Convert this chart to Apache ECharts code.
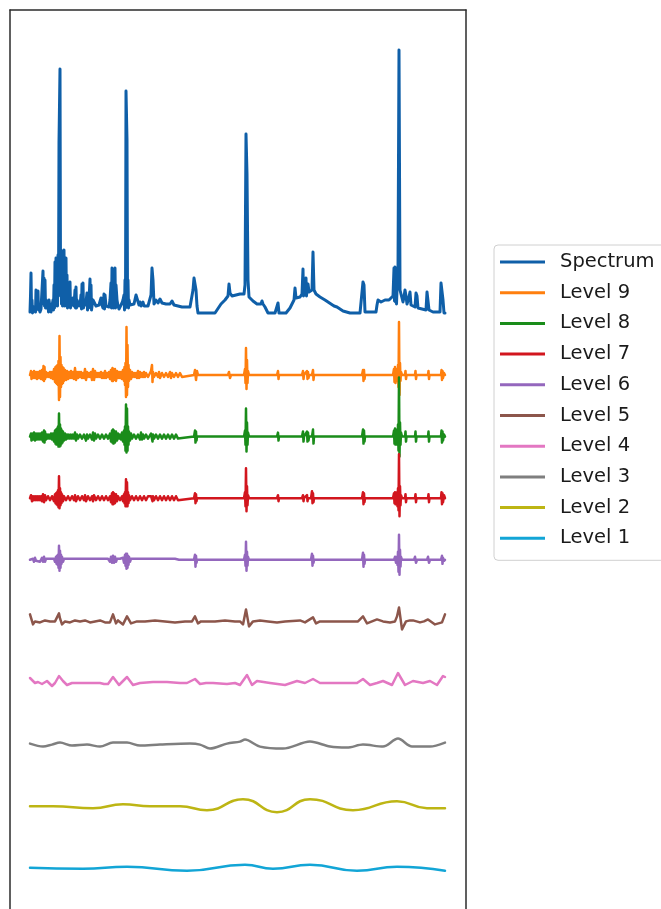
<!DOCTYPE html>
<html>
<head>
<meta charset="utf-8">
<script src="https://cdn.jsdelivr.net/npm/echarts@6/dist/echarts.min.js"></script>
<style>
  html, body { margin: 0; padding: 0; background: #fff; }
  #chart { width: 661px; height: 909px; }
</style>
</head>
<body>
<div id="chart"></div>
<script>
// Raw spectrum: [channel, intensity]
const spectrum = [
  [0,4],[0.5,20],[1,43],[1.5,8],[2,16],[2.5,3],[3,5],[4,9],[5,11],[5.5,4],[6,26],[6.5,10],[7,8],[8,25],[8.5,6],[9,10],[10,4],
  [11,7],[12,5],[13,45],[13.5,12],[14,38],[14.5,10],[15,36],[15.5,8],[16,16],[17,8],[18,12],[18.5,4],[19,16],[20,8],[21,4],
  [22,10],[23,16],[23.5,6],[24,31],[24.5,8],[25,54],[25.5,10],[26,58],[26.5,12],[27,54],[27.5,10],[28,61],[28.5,20],[29,174],
  [30,247],[30.5,40],[31,66],[31.5,12],[32,61],[32.5,10],[33,54],[33.5,14],[34,66],[34.5,10],[35,54],[35.5,12],[36,58],
  [36.5,10],[37,41],[37.5,8],[38,33],[38.5,9],[39,26],[40,34],[40.5,8],[41,16],[42,11],[43,18],[44,10],[45,26],[45.5,8],[46,29],
  [46.5,8],[47,16],[48,10],[49,14],[50,10],[51,21],[51.5,7],[52,32],[52.5,8],[53,33],[53.5,8],[54,16],[55,11],[56,14],[57,23],
  [57.5,6],[58,11],[59,16],[60,37],[60.5,8],[61,31],[61.5,6],[62,10],[63,16],[64,18],[65,17],[66,10],[67,12],[68,8],[69,11],
  [70,10],[71,18],[72,11],[73,8],[74,22],[74.5,7],[75,21],[76,10],[77,8],[79,9],[80,16],[81,33],[81.5,8],[82,48],[82.5,10],
  [83,36],[83.5,8],[84,46],[84.5,10],[85,48],[85.5,8],[86,31],[87,16],[88,10],[89,7],[90,6],[91,9],[92,13],[93,16],[94,21],
  [94.5,6],[95,36],[95.5,8],[96,225],[97,176],[97.5,20],[98,36],[98.5,8],[99,16],[100,11],[101,10],[102,9],[104,12],[106,21],
  [107,23],[108,20],[109,11],[110,14],[111,10],[113,14],[114,10],[116,11],[118,10],[120,10],[121,21],[122,48],[123,36],[124,12],
  [126,16],[128,13],[130,17],[132,13],[134,15],[136,12],[138,14],[140,12],[142,15],[144,11],[146,13],[148,10],[150,11],[152,9],
  [154,10],[156,9],[158,10],[160,9],[162,9],[163,26],[164,38],[165,36],[166,26],[167,10],[168,3],[170,3],[175,3],[180,3],
  [185,3],[187,5],[189,9],[191,12],[193,14],[195,16],[197,18],[198,20],[199,32],[200,23],[202,20],[204,22],[206,21],[208,23],
  [210,22],[212,22],[214,22],[215,31],[216,182],[217,142],[218,36],[219,19],[221,18],[223,15],[225,13],[227,12],[229,10],
  [231,12],[232,15],[233,12],[235,9],[237,8],[238,3],[240,3],[245,3],[247,3],[248,13],[249,3],[252,3],[256,3],[258,5],[260,8],
  [262,12],[264,16],[265,28],[266,18],[268,19],[270,19],[272,22],[273,47],[273.5,20],[274,26],[275,22],[276,38],[276.5,20],
  [277,26],[278,32],[279,24],[281,23],[282,26],[283,64],[284,26],[286,22],[288,20],[290,19],[292,18],[295,16],[298,14],[301,12],
  [304,10],[307,9],[310,7],[313,5],[315,3],[320,3],[325,3],[330,3],[332,4],[333,34],[334,31],[335,4],[338,4],[342,4],[346,4],
  [347,11],[348,16],[349,18],[351,14],[353,15],[355,16],[357,15],[359,16],[361,17],[363,20],[364,48],[364.5,15],[365,49],
  [365.5,14],[366,36],[366.5,12],[367,26],[368,46],[369,266],[370,26],[371,26],[372,24],[373,14],[374,19],[375,26],[376,20],
  [377,12],[378,11],[379,19],[380,24],[381,11],[383,10],[385,9],[386,23],[387,20],[388,8],[390,8],[392,7],[394,6],[396,6],
  [397,24],[398,24],[399,6],[401,5],[403,4],[406,4],[408,3],[410,4],[411,33],[412,31],[413,16],[414,3],[415,3]
];

// Decomposition levels (detail coefficients), [channel, amplitude]
const level9 = [
  [0,0],[1,4],[1.5,-4],[2,3],[3,-3],[4,4],[5,-3],[6,3],[7,-4],[8,3],[9,-3],[10,4],[11,-4],[12,5],[13,-5],[13.5,9],[14,-6],
  [14.5,8],[15,-4],[16,3],[17,-2],[18,2],[19,-2],[20,3],[21,-3],[22,3],[23,-4],[24,6],[25,-7],[25.5,8],[26,-8],[26.5,9],
  [27,-9],[27.5,10],[28,-10],[28.5,14],[29,-25],[29.5,39],[30,-22],[30.5,18],[31,-12],[31.5,10],[32,-9],[32.5,8],[33,-8],
  [33.5,7],[34,-6],[35,5],[36,-5],[37,4],[38,-4],[39,3],[40,-3],[41,4],[42,-3],[43,3],[44,-4],[45,7],[46,-5],[47,3],[48,-3],
  [49,3],[50,-2],[51,3],[52,-3],[53,2],[54,-3],[55,6],[56,-5],[57,3],[58,-2],[59,2],[60,-2],[61,3],[62,-5],[63,6],[64,-5],
  [65,4],[66,-2],[67,2],[68,-2],[69,2],[70,-2],[71,3],[72,-3],[73,2],[74,-3],[75,4],[76,-3],[77,2],[78,-2],[79,3],[80,-4],
  [81,5],[82,-6],[82.5,7],[83,-6],[83.5,6],[84,-5],[85,6],[86,-6],[87,4],[88,-3],[89,3],[90,-3],[91,3],[92,-4],[93,5],[94,-6],
  [94.5,8],[95,-10],[95.5,12],[96,-22],[96.5,48],[97,-20],[97.5,30],[98,-12],[98.5,10],[99,-6],[100,5],[101,-4],[102,3],
  [103,-2],[104,2],[105,-2],[106,2],[107,-3],[108,4],[109,-3],[110,3],[111,-2],[112,2],[113,-2],[114,3],[115,-2],[116,2],
  [118,-2],[120,0],[121,4],[122,10],[122.5,-7],[123,3],[124,-2],[126,2],[128,-2],[129,3],[130,-3],[132,2],[134,-2],[136,2],
  [138,-2],[140,3],[141,-3],[142,2],[144,-2],[146,2],[148,-2],[150,2],[152,-2],[154,0],[164,0],[165,5],[166,-5],[167,4],
  [168,0],[198,0],[199,3],[200,-3],[201,0],[214,0],[215,6],[215.5,-8],[216,27],[216.5,-14],[217,15],[217.5,-8],[218,4],
  [219,0],[247,0],[248,4],[248.5,-4],[249,0],[272,0],[273,4],[273.5,-4],[274,0],[276,0],[277,4],[277.5,-4],[278,3],[278.5,-3],
  [279,0],[282,0],[283,5],[283.5,-5],[284,0],[332,0],[333,5],[333.5,-6],[334,5],[334.5,-4],[335,0],[363,0],[364,6],[364.5,-7],
  [365,8],[365.5,-8],[366,6],[366.5,-5],[367,4],[367.5,-6],[368,10],[368.5,-12],[369,53],[369.5,-20],[370,12],[370.5,-6],
  [371,3],[372,0],[375,0],[375.5,4],[376,-4],[376.5,0],[385,0],[385.5,4],[386,-4],[386.5,0],[398,0],[398.5,4],[399,-4],
  [399.5,0],[411,0],[411.5,5],[412,-5],[412.5,4],[413,-3],[414,2],[415,0]
];

const level8 = [
  [0,0],[1,3],[1.5,-4],[2,3],[3,-3],[4,4],[5,-4],[6,3],[7,-3],[8,3],[9,-3],[10,3],[11,-3],[12,4],[13,-5],[14,6],[14.5,-6],
  [15,5],[16,-3],[17,2],[18,-2],[19,2],[20,-2],[21,3],[22,-3],[23,3],[24,-5],[25,6],[25.5,-7],[26,7],[26.5,-8],[27,8],
  [27.5,-8],[28,10],[28.5,-10],[29,23],[29.5,-10],[30,12],[30.5,-9],[31,8],[31.5,-7],[32,6],[32.5,-6],[33,5],[34,-4],[35,3],
  [36,-3],[37,2],[38,-2],[39,2],[40,-2],[41,2],[42,-2],[43,2],[44,-2],[45,4],[46,-4],[47,2],[48,-2],[50,2],[52,-2],[54,2],
  [55,4],[56,-4],[57,2],[58,-2],[60,2],[62,-3],[63,4],[64,-4],[65,3],[66,-2],[68,2],[70,-2],[72,2],[74,-2],[76,2],[78,-2],
  [80,3],[81,-5],[82,6],[82.5,-6],[83,7],[83.5,-7],[84,6],[85,-6],[86,5],[87,-4],[88,3],[89,-2],[90,2],[91,-3],[92,4],[93,-5],
  [94,6],[94.5,-8],[95,10],[95.5,-14],[96,32],[96.5,-16],[97,28],[97.5,-14],[98,10],[98.5,-8],[99,5],[100,-4],[101,3],
  [102,-2],[104,2],[106,-2],[108,2],[110,-3],[111,4],[112,-3],[113,2],[114,-2],[116,2],[118,-2],[120,0],[121,3],[122,5],
  [122.5,-5],[123,2],[124,-2],[126,2],[128,-2],[130,2],[132,-2],[134,2],[136,-2],[138,2],[140,-2],[142,2],[144,-2],[146,2],
  [148,-2],[150,0],[164,0],[165,6],[165.5,-6],[166,5],[166.5,-4],[167,0],[198,0],[199,2],[200,-2],[201,0],[214,0],[215,6],
  [215.5,-8],[216,28],[216.5,-15],[217,14],[217.5,-8],[218,4],[219,0],[247,0],[248,4],[248.5,-4],[249,0],[272,0],[273,5],
  [273.5,-5],[274,0],[276,0],[277,5],[277.5,-5],[278,4],[278.5,-4],[279,0],[282,0],[283,7],[283.5,-7],[284,0],[332,0],[333,7],
  [333.5,-7],[334,6],[334.5,-5],[335,0],[363,0],[364,6],[364.5,-7],[365,8],[365.5,-8],[366,7],[366.5,-7],[367,6],[367.5,-8],
  [368,12],[368.5,-14],[369,59],[369.5,-20],[370,14],[370.5,-8],[371,4],[372,0],[375,0],[375.5,5],[376,-5],[376.5,0],[385,0],
  [385.5,5],[386,-5],[386.5,0],[398,0],[398.5,5],[399,-5],[399.5,0],[411,0],[411.5,6],[412,-6],[412.5,5],[413,-4],[414,2],[415,0]
];

const level7 = [
  [0,0],[1,3],[2,-3],[3,2],[4,-2],[5,2],[6,-2],[7,2],[8,-2],[9,2],[10,-2],[11,2],[12,-3],[13,4],[14,-4],[15,3],[16,-2],[18,2],
  [20,-2],[22,2],[24,-3],[25,4],[25.5,-5],[26,5],[26.5,-6],[27,6],[27.5,-7],[28,8],[28.5,-9],[29,22],[29.5,-10],[30,10],
  [30.5,-7],[31,6],[31.5,-5],[32,4],[33,-3],[34,2],[36,-2],[38,2],[40,-2],[42,2],[44,-2],[45,3],[46,-3],[48,2],[50,-2],[52,2],
  [54,-2],[55,3],[56,-3],[58,2],[60,-2],[62,2],[63,-3],[64,3],[66,-2],[68,2],[70,-2],[72,2],[74,-2],[76,2],[78,-2],[80,2],
  [81,-4],[82,5],[82.5,-6],[83,6],[83.5,-6],[84,5],[85,-5],[86,4],[87,-3],[88,2],[90,-2],[92,2],[93,-3],[94,4],[94.5,-5],
  [95,6],[95.5,-8],[96,19],[96.5,-8],[97,16],[97.5,-8],[98,6],[98.5,-5],[99,3],[100,-2],[102,2],[104,-2],[106,2],[108,-2],
  [110,2],[112,-2],[114,2],[116,-2],[118,2],[120,0],[121,2],[122,4],[122.5,-3],[123,2],[124,-2],[126,2],[128,-2],[130,2],
  [132,-2],[134,2],[136,-2],[138,2],[140,-2],[142,2],[144,-2],[146,2],[148,-2],[150,0],[164,0],[165,5],[165.5,-5],[166,4],
  [166.5,-3],[167,0],[198,0],[199,2],[200,-2],[201,0],[214,0],[215,6],[215.5,-8],[216,30],[216.5,-13],[217,12],[217.5,-7],
  [218,3],[219,0],[247,0],[248,3],[248.5,-3],[249,0],[272,0],[273,3],[273.5,-3],[274,0],[276,0],[277,3],[277.5,-3],[278,0],
  [281,0],[282,7],[282.5,-5],[283,5],[283.5,-4],[284,0],[332,0],[333,6],[333.5,-6],[334,5],[334.5,-4],[335,0],[363,0],[364,5],
  [364.5,-5],[365,6],[365.5,-6],[366,5],[366.5,-6],[367,6],[367.5,-8],[368,10],[368.5,-12],[369,44],[369.5,-18],[370,12],
  [370.5,-7],[371,3],[372,0],[375,0],[375.5,4],[376,-4],[376.5,0],[385,0],[385.5,4],[386,-4],[386.5,0],[398,0],[398.5,4],
  [399,-4],[399.5,0],[411,0],[411.5,6],[412,-6],[412.5,5],[413,-4],[414,3],[415,0]
];

const level6 = [
  [0,0],[1,2],[2,-2],[3,1],[4,-2],[5,2],[6,-1],[8,1],[10,-2],[12,2],[13,-2],[14,3],[15,-2],[16,1],[18,-1],[20,1],[22,-1],
  [24,1],[25,-2],[26,3],[26.5,-4],[27,4],[27.5,-5],[28,5],[28.5,-8],[29,14],[29.5,-11],[30,9],[30.5,-8],[31,5],[31.5,-4],
  [32,3],[33,-2],[34,1],[36,-1],[38,1],[40,-1],[42,1],[44,-1],[46,1],[48,-1],[50,1],[52,-1],[54,1],[56,-1],[58,1],[60,-1],
  [62,1],[64,-1],[66,1],[68,-1],[70,1],[72,-1],[74,1],[76,-1],[78,1],[80,-2],[81,3],[82,-3],[83,4],[84,-3],[85,3],[86,-2],
  [87,1],[88,-1],[90,1],[92,-1],[93,2],[94,-3],[95,5],[95.5,-6],[96,6],[96.5,-9],[97,6],[97.5,-8],[98,4],[98.5,-5],[99,3],
  [100,-2],[101,1],[103,-1],[105,1],[107,-1],[109,1],[111,-1],[113,1],[115,-1],[117,1],[119,-1],[121,1],[123,-1],[125,1],
  [127,-1],[129,1],[131,-1],[133,1],[135,-1],[137,1],[139,-1],[141,1],[143,-1],[145,1],[147,-1],[149,0],[164,0],[165,5],
  [165.5,-7],[166,4],[166.5,-3],[167,0],[214,0],[215,5],[215.5,-6],[216,18],[216.5,-11],[217,8],[217.5,-6],[218,3],[219,0],
  [248,0],[249,2],[250,-2],[251,0],[281,0],[282,6],[282.5,-6],[283,4],[283.5,-3],[284,0],[332,0],[333,7],[333.5,-7],[334,5],
  [334.5,-4],[335,0],[364,0],[365,3],[366,-3],[367,3],[367.5,-5],[368,8],[368.5,-12],[369,25],[369.5,-15],[370,10],[370.5,-7],
  [371,3],[372,0],[384,0],[385,3],[386,-3],[387,0],[397,0],[398,3],[399,-3],[400,0],[411,0],[412,4],[412.5,-4],[413,2],
  [414,-1],[415,0]
];

const level5 = [
  [0,7],[3,-3],[5,0],[7,2],[10,-1],[12,-1],[15,1],[17,2],[20,0],[22,-2],[25,0],[27,-1],[29,8],[30,3],[32,-3],[35,0],[40,-1],
  [45,1],[50,0],[55,1],[60,-1],[65,0],[70,1],[75,-1],[80,-1],[83,7],[86,-2],[88,1],[90,0],[93,-3],[97,5],[101,-2],[103,-3],
  [107,0],[115,0],[125,1],[135,0],[145,-1],[155,0],[162,0],[165,5],[168,-2],[171,0],[185,0],[195,1],[205,0],[210,0],[213,-3],
  [216,12],[219,-5],[223,0],[230,1],[238,0],[247,-1],[255,0],[270,1],[275,-1],[283,4],[286,-2],[290,0],[310,0],[328,0],
  [333,5],[337,-2],[342,0],[347,2],[353,0],[360,-1],[365,0],[367,5],[369,14],[372,-8],[376,0],[380,1],[383,1],[390,-1],
  [394,0],[398,2],[405,-3],[412,-1],[415,7]
];

const level4 = [
  [0,5],[5,0],[8,1],[12,-1],[17,2],[22,-3],[25,0],[29,7],[33,2],[37,-2],[42,0],[47,0],[57,0],[65,0],[70,0],[74,-1],[78,-1],
  [83,6],[89,-2],[92,1],[97,6],[103,-2],[110,0],[123,1],[137,1],[150,0],[157,0],[165,4],[170,-1],[176,0],[183,0],[197,-1],
  [205,0],[210,-2],[217,8],[222,-2],[227,2],[240,0],[255,-2],[267,2],[275,0],[283,4],[290,0],[310,0],[327,0],[333,4],[340,-2],
  [347,0],[353,2],[362,-2],[368,10],[375,-2],[383,2],[393,0],[400,2],[407,-2],[413,7],[415,6]
];

const level3 = [
  [0,1],[13,-2],[22,0],[30,2],[42,-1],[57,0],[70,-2],[83,2],[97,2],[110,-1],[130,0],[160,1],[170,0],[180,-4],[197,1],[210,3],
  [215,5],[230,-2],[253,-4],[280,3],[300,-2],[317,-3],[333,0],[353,-2],[368,6],[382,-2],[400,-2],[415,2]
];

const level2 = [
  [0,0],[23,0],[63,-2],[93,2],[120,0],[150,0],[177,-4],[213,7],[247,-6],[280,7],[323,-4],[367,5],[397,-2],[415,-2]
];

const level1 = [
  [0,0],[53,-1],[97,1],[157,-3],[215,3],[243,-1],[280,3],[327,-3],[367,1],[415,-3]
];

const seriesNames = ['Spectrum', 'Level 9', 'Level 8', 'Level 7', 'Level 6', 'Level 5', 'Level 4', 'Level 3', 'Level 2', 'Level 1'];

// ---- styling / layout ----
const levelData = [level9, level8, level7, level6, level5, level4, level3, level2, level1];
const colors = ['#0f5fa8', '#ff7f0e', '#1a8c1a', '#d2161e', '#9467bd', '#8c564b', '#e377c2', '#7f7f7f', '#bdb514', '#12a5d6'];
const smoothness = [0, 0, 0, 0, 0, 0, 0, 0.3, 0.5, 0.5];

const FRAME_LEFT = 10, FRAME_WIDTH = 456;
const X_MIN = -20, X_MAX = 436;
const FIRST_LEVEL_CENTER = 375, LEVEL_STEP = 61.6, LEVEL_HALF = 30;
const frameLine = { show: true, onZero: false, lineStyle: { color: '#2b2b2b', width: 1.5 } };

const grids = [
  // outer frame (top, left and right edges; the bottom runs past the page)
  { left: FRAME_LEFT, top: 10, width: FRAME_WIDTH, bottom: 0 },
  // spectrum
  { left: FRAME_LEFT, top: 50, width: FRAME_WIDTH, height: 266 }
];
levelData.forEach((d, k) => {
  const c = FIRST_LEVEL_CENTER + k * LEVEL_STEP;
  grids.push({ left: FRAME_LEFT, top: c - LEVEL_HALF, width: FRAME_WIDTH, height: 2 * LEVEL_HALF });
});

const hidden = { show: false };
const xAxes = grids.map((g, i) => (i === 0
  ? { type: 'value', gridIndex: 0, min: 0, max: 1, position: 'top', axisLine: frameLine, axisTick: hidden, axisLabel: hidden, splitLine: hidden }
  : { type: 'value', gridIndex: i, min: X_MIN, max: X_MAX, show: false }));
const yAxes = grids.map((g, i) => {
  if (i === 0) return { type: 'value', gridIndex: 0, min: 0, max: 1, position: 'left', axisLine: frameLine, axisTick: hidden, axisLabel: hidden, splitLine: hidden };
  if (i === 1) return { type: 'value', gridIndex: 1, min: 0, max: 266, show: false };
  return { type: 'value', gridIndex: i, min: -LEVEL_HALF, max: LEVEL_HALF, show: false };
});
// right edge of the frame
yAxes.push({ type: 'value', gridIndex: 0, min: 0, max: 1, position: 'right', axisLine: frameLine, axisTick: hidden, axisLabel: hidden, splitLine: hidden });

const allData = [spectrum].concat(levelData);
const series = allData.map((d, i) => ({
  name: seriesNames[i],
  type: 'line',
  xAxisIndex: i + 1,
  yAxisIndex: i + 1,
  data: d,
  showSymbol: false,
  symbol: 'none',
  clip: false,
  smooth: smoothness[i] || false,
  lineStyle: { color: colors[i], width: i === 0 ? 3 : 2.5, cap: 'round', join: 'round' },
  itemStyle: { color: colors[i] },
  emphasis: { disabled: true },
  animation: false
}));

const chart = echarts.init(document.getElementById('chart'), null, { renderer: 'canvas' });
chart.setOption({
  backgroundColor: '#ffffff',
  animation: false,
  grid: grids,
  xAxis: xAxes,
  yAxis: yAxes,
  legend: {
    data: seriesNames,
    orient: 'vertical',
    left: 494,
    top: 245,
    icon: 'rect',
    itemWidth: 45,
    itemHeight: 3,
    itemGap: 10.7,
    padding: [7, 14, 12, 6],
    borderColor: '#d0d0d0',
    borderWidth: 1,
    borderRadius: 4,
    backgroundColor: '#ffffff',
    selectedMode: false,
    textStyle: {
      fontFamily: 'DejaVu Sans',
      fontSize: 19.5,
      lineHeight: 20,
      color: '#1a1a1a',
      padding: [0, 0, 0, 10]
    }
  },
  series: series
});
</script>
</body>
</html>
